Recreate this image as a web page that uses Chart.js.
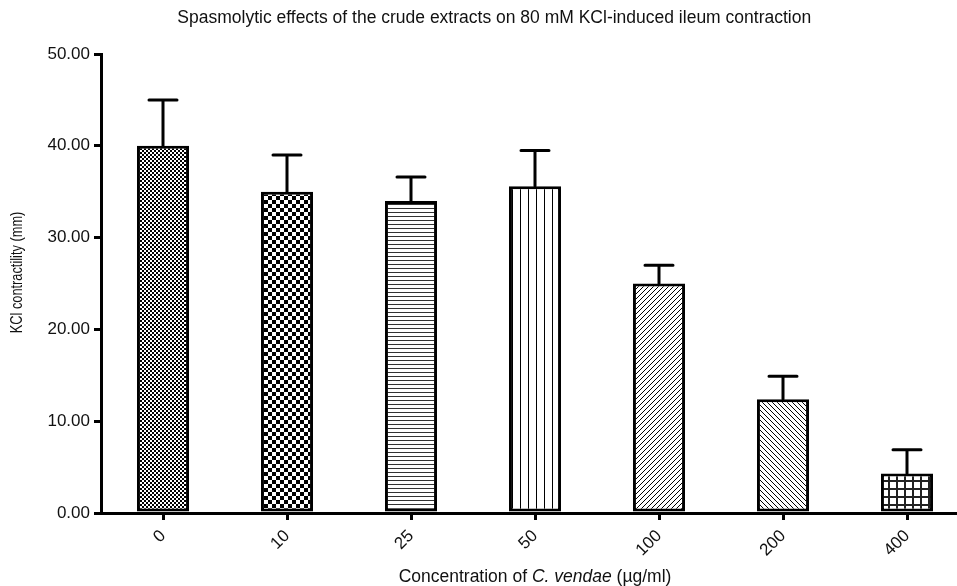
<!DOCTYPE html>
<html>
<head>
<meta charset="utf-8">
<script src="https://cdn.jsdelivr.net/npm/chart.js@4.4.1/dist/chart.umd.min.js"></script>
<style>
  html, body { margin: 0; padding: 0; background: #fff; overflow: hidden; }
  .wrap { position: relative; width: 980px; height: 586px; }
  .x-title {
    position: absolute; left: 101px; width: 868px; top: 566px;
    text-align: center; font: 17.5px "Liberation Sans", Arial, sans-serif; color: #111;
  }
</style>
</head>
<body>
<div class="wrap">
  <canvas id="chart"></canvas>
  <div class="x-title">Concentration of <i>C. vendae</i> (µg/ml)</div>
</div>
<script>
const concentrations = ["0", "10", "25", "50", "100", "200", "400"];
const contractility = [40.0, 35.0, 34.0, 35.6, 25.0, 12.4, 4.3];
const sem = [5.0, 4.0, 2.6, 3.9, 2.0, 2.5, 2.6];

const FONT = '"Liberation Sans", Arial, sans-serif';
const Y_TITLE = "KCl contractility (mm)";

function makePattern(size, draw) {
  const c = document.createElement("canvas");
  c.width = c.height = size;
  const g = c.getContext("2d");
  g.fillStyle = "#fff";
  g.fillRect(0, 0, size, size);
  g.fillStyle = "#000";
  draw(g, size);
  return g.createPattern(c, "repeat");
}

const patterns = [
  makePattern(4, (g) => { g.fillRect(0, 0, 2, 2); g.fillRect(2, 2, 2, 2); }),
  makePattern(8, (g) => { g.fillRect(0, 0, 4, 4); g.fillRect(4, 4, 4, 4); }),
  makePattern(4, (g) => { g.fillStyle = "#333"; g.fillRect(0, 0, 4, 1); }),
  makePattern(8, (g) => { g.fillRect(0, 0, 1, 8); }),
  makePattern(5, (g, s) => { for (let i = 0; i < s; i++) g.fillRect(i, s - 1 - i, 1, 1); }),
  makePattern(5, (g, s) => { for (let i = 0; i < s; i++) g.fillRect(i, i, 1, 1); }),
  makePattern(8, (g) => { g.fillStyle = "#222"; g.fillRect(0, 0, 8, 2); g.fillRect(0, 0, 2, 8); }),
];

// upward-only error bars, placed with the y scale
const errorBars = {
  id: "errorBars",
  afterDatasetsDraw(chart) {
    const ctx = chart.ctx;
    const y = chart.scales.y;
    const meta = chart.getDatasetMeta(0);
    ctx.save();
    ctx.strokeStyle = "#000";
    ctx.lineWidth = 3;
    ctx.lineCap = "round";
    meta.data.forEach((bar, i) => {
      const top = y.getPixelForValue(contractility[i]);
      const cap = y.getPixelForValue(contractility[i] + sem[i]);
      ctx.beginPath();
      ctx.moveTo(bar.x, top);
      ctx.lineTo(bar.x, cap);
      ctx.moveTo(bar.x - 14, cap);
      ctx.lineTo(bar.x + 14, cap);
      ctx.stroke();
    });
    ctx.restore();
  },
};

// condensed, rotated y axis title (like the squeezed original)
const yTitle = {
  id: "yTitle",
  afterDraw(chart) {
    const ctx = chart.ctx;
    const area = chart.chartArea;
    ctx.save();
    ctx.translate(18, (area.top + area.bottom) / 2 - 11);
    ctx.rotate(-Math.PI / 2);
    ctx.scale(0.8, 1);
    ctx.font = "16px " + FONT;
    ctx.fillStyle = "#111";
    ctx.textAlign = "center";
    ctx.textBaseline = "middle";
    ctx.fillText(Y_TITLE, 0, 0);
    ctx.restore();
  },
};

new Chart(document.getElementById("chart"), {
  type: "bar",
  data: {
    labels: concentrations,
    datasets: [{
      data: contractility,
      backgroundColor: patterns,
      borderColor: "#000",
      borderWidth: 3,
      borderSkipped: false,
      barPercentage: 0.42,
      categoryPercentage: 1,
    }],
  },
  options: {
    responsive: true,
    maintainAspectRatio: false,
    animation: false,
    layout: { padding: { left: 0, right: 11, top: 0, bottom: 0 } },
    plugins: {
      legend: { display: false },
      tooltip: { enabled: false },
      title: {
        display: true,
        text: "\u00a0\u00a0\u00a0\u00a0Spasmolytic effects of the crude extracts on 80 mM KCl-induced ileum contraction",
        color: "#111",
        font: { family: FONT, size: 17.5, weight: "normal" },
        padding: { top: 8, bottom: 25 },
      },
    },
    scales: {
      x: {
        offset: true,
        grid: { display: true, drawOnChartArea: false, offset: false, color: "#000", lineWidth: 3, tickLength: 7 },
        border: { display: true, color: "#000", width: 3 },
        ticks: {
          color: "#111",
          font: { family: FONT, size: 17 },
          minRotation: 45,
          maxRotation: 45,
          padding: 6,
        },
        afterFit: (s) => { s.height = 73; },
      },
      y: {
        min: 0,
        max: 50,
        grid: { display: true, drawOnChartArea: false, color: "#000", lineWidth: 3, tickLength: 7 },
        border: { display: true, color: "#000", width: 3 },
        ticks: {
          stepSize: 10,
          color: "#111",
          font: { family: FONT, size: 17 },
          padding: 4,
          callback: (v) => v.toFixed(2),
        },
        afterFit: (s) => { s.width = 101; },
      },
    },
  },
  plugins: [errorBars, yTitle],
});
</script>
</body>
</html>
